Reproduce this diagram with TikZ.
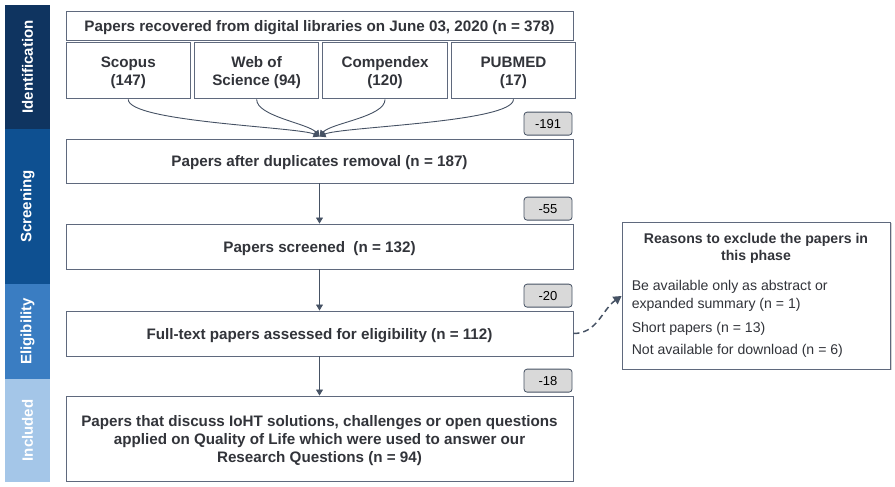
\documentclass[tikz,border=0pt]{standalone}
\usepackage{fontspec}
\setmainfont{Liberation Sans}
\usepackage{tikz}
\usetikzlibrary{arrows.meta,positioning,calc,shadows}
\definecolor{identif}{RGB}{15,52,96}
\definecolor{cribado}{RGB}{14,80,145}
\definecolor{elegib}{RGB}{58,125,194}
\definecolor{incluido}{RGB}{164,198,232}
\definecolor{borde}{RGB}{95,105,125}
\definecolor{linea}{RGB}{70,82,100}
\definecolor{texto}{RGB}{50,52,58}
\definecolor{insignia}{RGB}{217,217,217}

\begin{document}
\begin{tikzpicture}[x=1pt,y=1pt,
fase/.style={rotate=90,minimum height=45pt,inner sep=0pt,text=white,font=\fontsize{15}{17}\selectfont\bfseries},
caja/.style={draw=borde,line width=0.9pt,fill=white,minimum width=507pt,align=center,text=texto,text depth=-2pt,font=\fontsize{15.2}{18}\selectfont\bfseries},
fuente/.style={caja,minimum width=124.5pt,minimum height=56pt},
menos/.style={draw=linea,line width=0.8pt,rounded corners=3pt,fill=insignia,minimum width=48pt,minimum height=23pt,inner sep=0pt,font=\fontsize{13}{14}\selectfont},
motivo/.style={text=texto,inner sep=0pt,align=left,anchor=west,font=\fontsize{14.1}{18}\selectfont},
arr/.style={-{Triangle[length=6pt,width=7pt]},line width=0.9pt,draw=linea}
]
\useasboundingbox (0,0) rectangle (895,487);

\node[fase,fill=identif,minimum width=124pt] (pid) at (27.5,420) {Identification};
\node[fase,fill=cribado,minimum width=155pt] (pscr) at (27.5,280.5) {Screening};
\node[fase,fill=elegib,minimum width=95pt] (pel) at (27.5,155.5) {Eligibility};
\node[fase,fill=incluido,minimum width=103pt] (pinc) at (27.5,56.5) {Included};

\node[caja,minimum height=29pt] (total) at (319.5,461.5) {Papers recovered from digital libraries on June 03, 2020 (n = 378)};
\node[fuente,below=2pt of total.south west,anchor=north west] (scopus) {Scopus\\(147)};
\node[fuente,right=3pt of scopus] (wos) {Web of\\Science (94)};
\node[fuente,right=3pt of wos] (comp) {Compendex\\(120)};
\node[fuente,right=3pt of comp] (pubmed) {PUBMED\\(17)};

\node[caja,minimum height=44pt] (dup) at (319.5,326) {Papers after duplicates removal (n = 187)};
\node[caja,minimum height=45pt] (scr) at (319.5,240.5) {Papers screened~ (n = 132)};
\node[caja,minimum height=45pt] (full) at (319.5,153.5) {Full-text papers assessed for eligibility (n = 112)};
\node[caja,minimum height=85pt] (final) at (319.5,48.5) {Papers that discuss IoHT solutions, challenges or open questions\\applied on Quality of Life which were used to answer our\\Research Questions (n = 94)};

\node[menos,above=3pt of dup.north east,anchor=south east,xshift=-1pt] (m191) {-191};
\node[menos,above=3pt of scr.north east,anchor=south east,xshift=-1pt] (m55) {-55};
\node[menos,above=3pt of full.north east,anchor=south east,xshift=-1pt] (m20) {-20};
\node[menos,above=3pt of final.north east,anchor=south east,xshift=-1pt] (m18) {-18};

\node[draw=borde,line width=0.9pt,fill=white,minimum width=268pt,minimum height=147pt,
  drop shadow={shadow xshift=1.5pt,shadow yshift=-1.5pt,opacity=0.35}] (razones) at (756,191.5) {};
\node[text=texto,align=center,font=\fontsize{14.1}{17}\selectfont\bfseries,below=8pt of razones.north] (titulo) {Reasons to exclude the papers in\\this phase};
\node[motivo] (r1) at ($(razones.west)+(10,-0.5)$) {Be available only as abstract or\\expanded summary (n = 1)};
\node[motivo] (r2) at ($(razones.west)+(10,-33.5)$) {Short papers (n = 13)};
\node[motivo] (r3) at ($(razones.west)+(10,-55.5)$) {Not available for download (n = 6)};

\coordinate (junta) at ($(dup.north)+(0,2)$);
\draw[arr] (scopus.south) to[out=-90,in=155,looseness=0.3] (junta);
\draw[arr] (wos.south) to[out=-90,in=130,looseness=0.6] (junta);
\draw[arr] (comp.south) to[out=-90,in=50,looseness=0.6] (junta);
\draw[arr] (pubmed.south) to[out=-90,in=25,looseness=0.3] (junta);

\draw[arr] (dup) -- (scr);
\draw[arr] (scr) -- (full);
\draw[arr] (full) -- (final);
\draw[-{Triangle[length=8pt,width=9pt]},line width=1.5pt,draw=linea,dash pattern=on 6pt off 4pt]
  (full.east) to[out=0,in=215] ($(razones.west)+(0,-0.5)$);
\end{tikzpicture}
\end{document}
